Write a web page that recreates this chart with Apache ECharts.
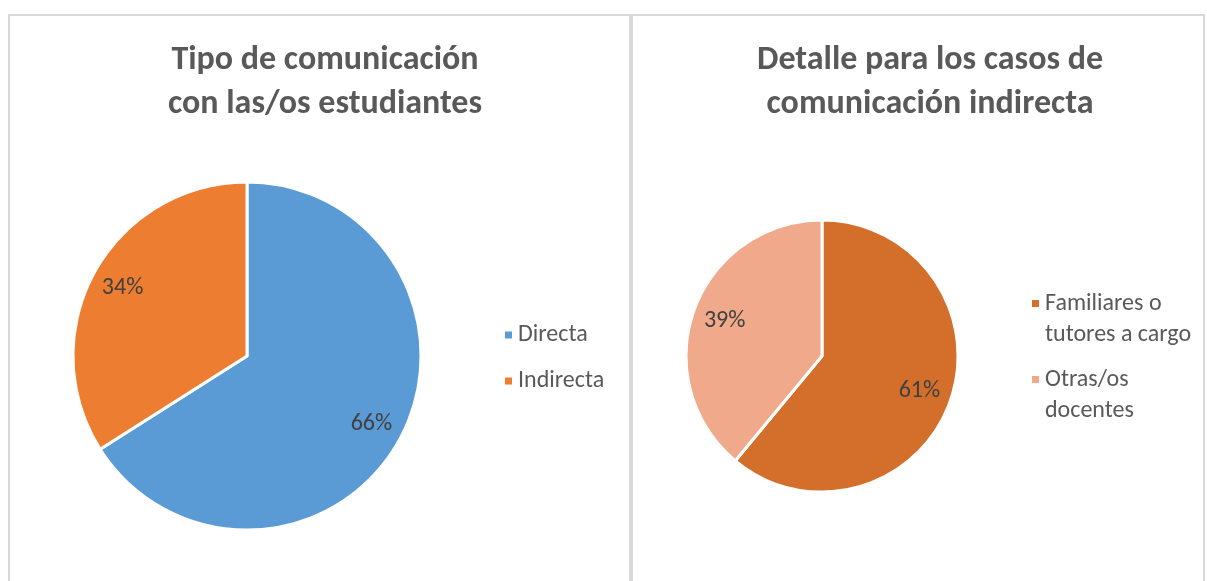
<!DOCTYPE html>
<html>
<head>
<meta charset="utf-8">
<script src="https://cdn.jsdelivr.net/npm/echarts@6/dist/echarts.min.js"></script>
<style>
  html, body { margin: 0; padding: 0; background: #fff; }
  #main { width: 1207px; height: 581px; }
</style>
</head>
<body>
<div id="main"></div>
<script>
// datos de los dos gráficos
const tipoNames = ['Directa', 'Indirecta'];
const tipoValues = [66, 34];
const tipoColors = ['#5B9BD5', '#ED7D31'];

const detalleNames = ['Familiares o\ntutores a cargo', 'Otras/os\ndocentes'];
const detalleValues = [61, 39];
const detalleColors = ['#D36F2B', '#F1A98B'];

const font = 'Carlito, Calibri, "Open Sans", sans-serif';

function toData(names, values, colors) {
  return names.map((n, i) => ({ name: n, value: values[i], itemStyle: { color: colors[i] } }));
}

// pastel visible (sin etiquetas)
function pieSeries(names, values, colors, center, r) {
  return {
    type: 'pie',
    center: center,
    radius: [0, r],
    startAngle: 90,
    clockwise: true,
    silent: true,
    itemStyle: { borderColor: '#fff', borderWidth: 3 },
    label: { show: false },
    labelLine: { show: false },
    data: toData(names, values, colors)
  };
}

// anillo transparente solo para colocar las etiquetas más afuera
function labelSeries(names, values, center, r0, r) {
  return {
    type: 'pie',
    center: center,
    radius: [r0, r],
    startAngle: 90,
    clockwise: true,
    silent: true,
    legendHoverLink: false,
    itemStyle: { color: 'rgba(0,0,0,0)' },
    label: {
      show: true,
      position: 'inside',
      formatter: '{c}%',
      fontFamily: font,
      fontSize: 24,
      color: '#404040'
    },
    labelLine: { show: false },
    data: names.map((n, i) => ({ name: n + ' ', value: values[i] }))
  };
}

const chart = echarts.init(document.getElementById('main'));

chart.setOption({
  animation: false,
  backgroundColor: '#fff',
  graphic: [
    { type: 'rect', shape: { x: 9, y: 15, width: 621, height: 600 }, style: { fill: 'none', stroke: '#D9D9D9', lineWidth: 2 } },
    { type: 'rect', shape: { x: 632, y: 15, width: 572, height: 600 }, style: { fill: 'none', stroke: '#D9D9D9', lineWidth: 2 } }
  ],
  title: [
    {
      text: 'Tipo de comunicación\ncon las/os estudiantes',
      left: 320, top: 33, textAlign: 'center',
      textStyle: { fontFamily: font, fontSize: 34, fontWeight: 'bold', color: '#595959', lineHeight: 44 }
    },
    {
      text: 'Detalle para los casos de\ncomunicación indirecta',
      left: 925, top: 33, textAlign: 'center',
      textStyle: { fontFamily: font, fontSize: 34, fontWeight: 'bold', color: '#595959', lineHeight: 44 }
    }
  ],
  legend: [
    {
      data: tipoNames,
      orient: 'vertical',
      left: 498, top: 316,
      icon: 'rect', itemWidth: 9, itemHeight: 9, itemGap: 18,
      selectedMode: false,
      textStyle: { fontFamily: font, fontSize: 24, color: '#595959', lineHeight: 28 }
    },
    {
      data: detalleNames,
      orient: 'vertical',
      left: 1025, top: 252,
      icon: 'rect', itemWidth: 9, itemHeight: 9, itemGap: -17,
      selectedMode: false,
      // línea vacía arriba para que el marcador quede a la altura de la primera línea
      formatter: name => ' \n' + name,
      textStyle: { fontFamily: font, fontSize: 24, color: '#595959', lineHeight: 31 }
    }
  ],
  series: [
    pieSeries(tipoNames, tipoValues, tipoColors, [247, 356], 174),
    labelSeries(tipoNames, tipoValues, [247, 356], 104, 174),
    pieSeries(detalleNames, detalleValues, detalleColors, [822, 356], 136),
    labelSeries(detalleNames, detalleValues, [822, 356], 65, 136)
  ]
});
</script>
</body>
</html>
